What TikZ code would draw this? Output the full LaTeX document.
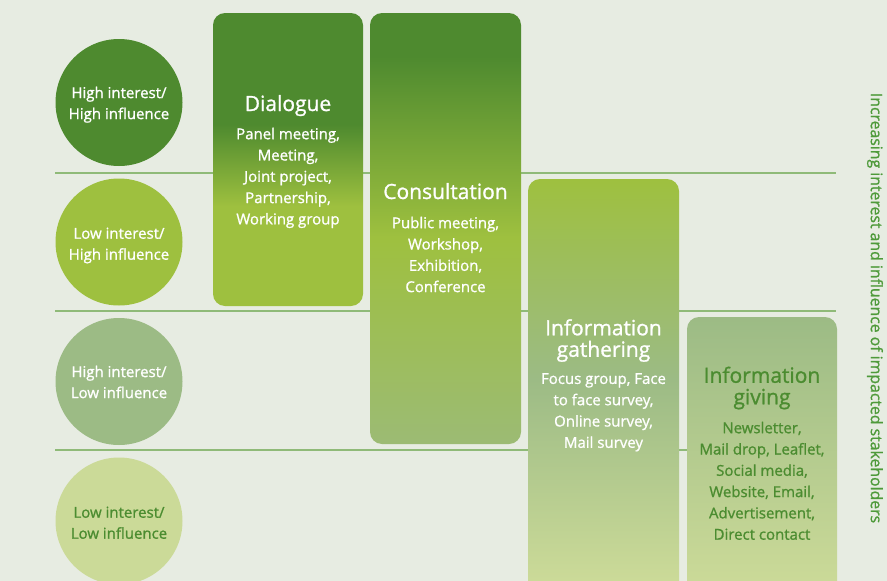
\documentclass[tikz,border=0pt]{standalone}
\usepackage{fontspec}
\setmainfont{Open Sans}[FakeBold=1.1]

\definecolor{bgcol}{HTML}{E7ECE2}
\definecolor{rulecol}{HTML}{8FBA78}
\definecolor{darkgreen}{HTML}{4E8A2F}
\definecolor{limegreen}{HTML}{9EC03F}
\definecolor{sagegreen}{HTML}{9CBB85}
\definecolor{palegreen}{HTML}{CBDA98}
\definecolor{greysage}{HTML}{9CBB74}
\definecolor{inkgreen}{HTML}{4B8C30}
\definecolor{sidegreen}{HTML}{4E9A3A}

% vertical shadings: the path spans 25bp (bottom) to 75bp (top)
\pgfdeclareverticalshading{dialogueshade}{100bp}{%
  color(0bp)=(limegreen); color(42bp)=(limegreen);
  color(56bp)=(darkgreen); color(100bp)=(darkgreen)}
\pgfdeclareverticalshading{consultshade}{100bp}{%
  color(0bp)=(greysage); color(25bp)=(greysage);
  color(49bp)=(limegreen); color(70bp)=(darkgreen); color(100bp)=(darkgreen)}
\pgfdeclareverticalshading{gathershade}{100bp}{%
  color(0bp)=(palegreen); color(27bp)=(palegreen);
  color(51bp)=(sagegreen); color(75bp)=(limegreen); color(100bp)=(limegreen)}
\pgfdeclareverticalshading{givingshade}{100bp}{%
  color(0bp)=(palegreen); color(27bp)=(palegreen);
  color(75bp)=(sagegreen); color(100bp)=(sagegreen)}

\tikzset{
  rulestyle/.style={draw=rulecol, line width=1.1pt},
  circ/.style={circle, minimum size=127pt, inner sep=0pt},
  circtext/.style={anchor=base, inner sep=0pt, align=center,
    font=\fontsize{15}{21}\selectfont},
  colbox/.style={rounded corners=12pt},
  boxtitle/.style={anchor=base, inner sep=0pt, align=center,
    font=\fontsize{21}{21.5}\selectfont},
  boxbody/.style={anchor=north, inner sep=0pt, align=center,
    font=\fontsize{15}{21.3}\selectfont},
}

\begin{document}
\begin{tikzpicture}[x=1pt,y=-1pt]
\useasboundingbox (0,0) rectangle (887,581);
\fill[bgcol] (0,0) rectangle (887,581);
\clip (0,0) rectangle (887,581);

% row separators
\draw[rulestyle] (55,173) -- (836,173);
\draw[rulestyle] (55,311) -- (836,311);
\draw[rulestyle] (55,450) -- (836,450);

% stakeholder groups
\node[circ, fill=darkgreen] (hihi) at (119,102.5) {};
\node[circ, fill=limegreen] (lohi) at (119,242) {};
\node[circ, fill=sagegreen] (hilo) at (119,381.5) {};
\node[circ, fill=palegreen] (lolo) at (119,521) {};
\node[circtext, anchor=north, text=white] (hihitext) at (119,86.5) {High interest/\\High influence};
\node[circtext, anchor=north, text=white] (lohitext) at (119,227.5) {Low interest/\\High influence};
\node[circtext, anchor=north, text=white] (hilotext) at (119,365.5) {High interest/\\Low influence};
\node[circtext, anchor=north, text=inkgreen] (lolotext) at (119,506.5) {Low interest/\\Low influence};

% engagement columns
\shade[colbox, shading=dialogueshade] (213,13) rectangle (363,306);
\shade[colbox, shading=consultshade] (370,13) rectangle (521,444);
\shade[colbox, shading=gathershade] (528,179) rectangle (679,596);
\shade[colbox, shading=givingshade] (687,317) rectangle (837,596);

% Dialogue
\node[boxtitle, text=white] (dlgtitle) at (288,111) {Dialogue};
\node[boxbody, text=white] (dlgbody) at (288,127.6)
  {Panel meeting,\\Meeting,\\Joint project,\\Partnership,\\Working group};

% Consultation
\node[boxtitle, text=white] (contitle) at (445.5,199) {Consultation};
\node[boxbody, text=white] (conbody) at (445.5,216.6)
  {Public meeting,\\Workshop,\\Exhibition,\\Conference};

% Information gathering
\node[boxtitle, text=white, anchor=north] (gattitle) at (603.5,319)
  {Information\\gathering};
\node[boxbody, text=white] (gatbody) at (603.5,373)
  {Focus group, Face\\to face survey,\\Online survey,\\Mail survey};

% Information giving
\node[boxtitle, text=inkgreen, anchor=north] (givtitle) at (762,366.5)
  {Information\\giving};
\node[boxbody, text=inkgreen] (givbody) at (762,421.6)
  {Newsletter,\\Mail drop, Leaflet,\\Social media,\\Website, Email,\\Advertisement,\\Direct contact};

% axis caption
\node[rotate=-90, text=sidegreen, font=\fontsize{15.8}{18}\selectfont, inner sep=0pt]
  (axislabel) at (875,308) {Increasing interest and influence of impacted stakeholders};
\end{tikzpicture}
\end{document}
